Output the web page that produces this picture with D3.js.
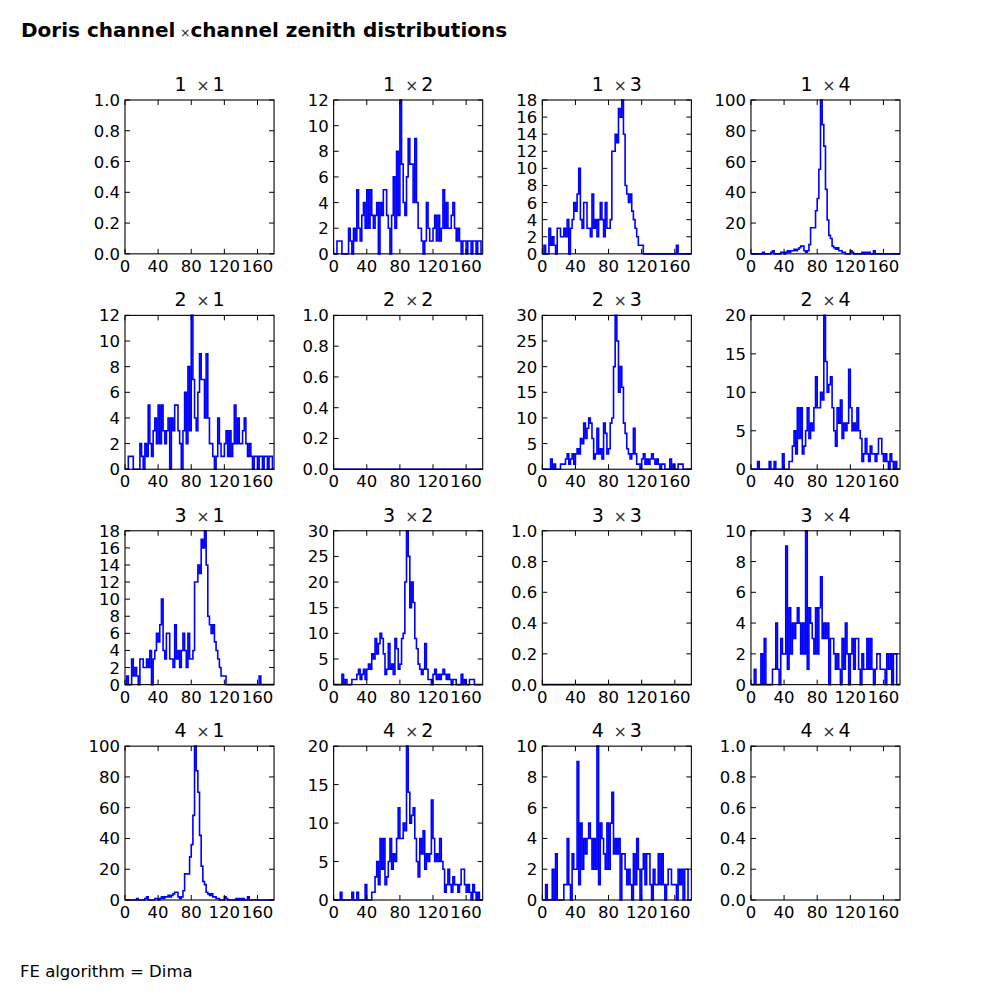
<!DOCTYPE html>
<html><head><meta charset="utf-8">
<script src="https://cdn.jsdelivr.net/npm/d3@7"></script>
<style>html,body{margin:0;padding:0;background:#fff;} svg{display:block;font-family:"DejaVu Sans",sans-serif;}</style>
</head><body><svg id="chart" width="1000" height="1000"></svg>
<script>
// ---------------- data ----------------
const channels = [1, 2, 3, 4];
const binWidth = 2;            // degrees per histogram bin
const xMax = 180;
const xTicks = [0, 40, 80, 120, 160];

// zenith histograms (counts per 2-degree bin, 0..180)
const hist12 = [0,0,1,1,1,0,0,0,0,2, 1,0,2,1,5,2,1,3,4,2, 5,2,5,3,2,3,4,0,4,3,
                5,5,3,2,0,3,6,2,8,3, 12,7,4,3,6,9,7,7,4,9, 4,2,2,1,0,1,4,2,1,1,
                2,3,1,3,1,2,5,2,4,2, 2,3,4,2,1,2,1,0,1,1, 0,1,1,0,1,1,0,1,1,0];
const hist13 = [0,1,0,0,3,1,2,1,0,3, 3,2,2,3,2,4,0,3,4,6, 5,7,10,4,3,6,6,3,3,2,
                7,3,4,2,4,6,4,2,6,3, 3,4,12,12,14,13,17,16,18,14, 8,7,6,7,5,4,3,2,1,1,
                1,0,0,0,0,0,0,0,0,0, 0,0,0,0,0,0,0,0,0,0, 0,1,0,0,0,0,0,0,0,0];
const hist14 = [0,0,0,0,0,0,0,1,0,0, 0,0,1,2,0,0,0,0,1,1, 0,1,2,1,2,2,3,2,3,4,
                5,5,2,1,2,6,17,17,17,28, 36,55,100,84,70,42,22,12,10,5, 4,3,4,2,2,1,1,0,0,0,
                2,1,0,0,0,0,0,1,0,1, 0,1,0,0,2,0,0,0,0,0, 0,0,0,0,0,0,0,0,0,0];
const hist23 = [0,0,0,0,0,2,0,1,0,0, 0,1,1,1,2,3,1,2,3,1, 3,4,3,6,5,9,6,8,10,9,
                6,2,3,8,3,4,2,9,7,3, 4,9,10,20,30,25,15,20,16,9, 7,4,3,2,3,8,3,1,1,0,
                2,3,1,2,1,2,3,2,1,2, 1,0,1,1,0,0,0,2,0,1, 0,0,1,1,1,0,0,0,0,0];
const hist24 = [0,0,0,0,1,0,0,0,0,0, 0,1,0,0,1,0,0,0,0,2, 0,0,0,1,1,3,5,2,8,4,
                8,2,3,5,8,4,6,5,8,12, 8,8,10,9,20,14,10,11,12,8, 5,3,8,6,9,4,6,5,6,13,
                8,5,6,5,8,5,4,1,2,4, 2,1,3,2,2,1,2,4,4,2, 1,2,1,0,2,1,0,1,0,0];
const hist34 = [0,0,1,0,0,0,2,0,3,0, 0,0,0,1,1,4,1,0,3,2, 2,9,1,5,2,4,3,4,5,4,
                2,4,2,10,1,5,4,3,2,5, 2,5,7,3,4,3,4,0,3,3, 2,1,2,1,0,3,1,4,2,0,
                2,3,1,3,3,1,0,2,1,1, 3,1,3,1,0,1,2,2,1,1, 1,0,2,1,2,0,2,2,0,0];
const hist22 = [0,0,0,0,0,0,0,0,0,0, 0,0,0,0,0,0,0,0,0,0, 0,0,0,0,0,0,0,0,0,0,
                0,0,0,0,0,0,0,0,0,0, 0,0,0,0,0,0,0,0,0,0, 0,0,0,0,0,0,0,0,0,0,
                0,0,0,0,0,0,0,0,0,0, 0,0,0,0,0,0,0,0,0,0, 0,0,0,0,0,0,0,0,0,0];
const hist33 = [0,0,0,0,0,0,0,0,0,0, 0,0,0,0,0,0,0,0,0,0, 0,0,0,0,0,0,0,0,0,0,
                0,0,0,0,0,0,0,0,0,0, 0,0,0,0,0,0,0,0,0,0, 0,0,0,0,0,0,0,0,0,0,
                0,0,0,0,0,0,0,0,0,0, 0,0,0,0,0,0,0,0,0,0, 0,0,0,0,0,0,0,0,0,0];

// y-axis tick sets
const yTicksUnit = [0, 0.2, 0.4, 0.6, 0.8, 1.0];
const yTicks12 = [0, 2, 4, 6, 8, 10, 12];
const yTicks13 = [0, 2, 4, 6, 8, 10, 12, 14, 16, 18];
const yTicks14 = [0, 20, 40, 60, 80, 100];
const yTicks23 = [0, 5, 10, 15, 20, 25, 30];
const yTicks24 = [0, 5, 10, 15, 20];
const yTicks34 = [0, 2, 4, 6, 8, 10];

const titleText = ["Doris channel", "\u00d7", "channel zenith distributions"];
const footText = "FE algorithm = Dima";

// table built from the arrays above
const pairTable = {
  "1-1": {counts: null, ticks: yTicksUnit},
  "2-2": {counts: hist22, ticks: yTicksUnit},
  "3-3": {counts: hist33, ticks: yTicksUnit},
  "4-4": {counts: null, ticks: yTicksUnit},
  "1-2": {counts: hist12, ticks: yTicks12},
  "1-3": {counts: hist13, ticks: yTicks13},
  "1-4": {counts: hist14, ticks: yTicks14},
  "2-3": {counts: hist23, ticks: yTicks23},
  "2-4": {counts: hist24, ticks: yTicks24},
  "3-4": {counts: hist34, ticks: yTicks34}
};

// ---------------- layout ----------------
const svg = d3.select("#chart");
const figL = 125, figR = 900, figT = 100, figB = 900, space = 0.4;
const pw = (figR - figL) / (4 + 3 * space);
const ph = (figB - figT) / (4 + 3 * space);
const tickLen = 5;
const fontTick = 16.5, fontTitle = 19;

svg.append("rect").attr("width", 1000).attr("height", 1000).attr("fill", "#fff");

// suptitle
const st = svg.append("text").attr("x", 21).attr("y", 37)
  .attr("font-size", 20).attr("fill", "#000");
st.append("tspan").attr("font-weight", "bold").text(titleText[0]);
st.append("tspan").attr("dx", 4.5).attr("font-size", 12.5).attr("font-weight", "normal").attr("fill", "#222").text(titleText[1]);
st.append("tspan").attr("font-weight", "bold").text(titleText[2]);

// footnote
svg.append("text").attr("x", 20).attr("y", 977).attr("font-size", 16.5).attr("fill", "#000").text(footText);

channels.forEach((ci, r) => {
  channels.forEach((cj, c) => {
    const key = ci <= cj ? `${ci}-${cj}` : `${cj}-${ci}`;
    const entry = pairTable[key];
    const x0 = figL + c * pw * (1 + space);
    const y0 = figT + r * ph * (1 + space);
    const g = svg.append("g").attr("transform", `translate(${x0},${y0})`);

    const x = d3.scaleLinear().domain([0, xMax]).range([0, pw]);
    const yt = entry.ticks;
    const y = d3.scaleLinear().domain([yt[0], yt[yt.length - 1]]).range([ph, 0]);

    // histogram step outline
    if (entry.counts) {
      const edges = d3.range(0, xMax + binWidth / 2, binWidth);
      const pts = [[edges[0], 0]];
      entry.counts.forEach((v, k) => { pts.push([edges[k], v]); pts.push([edges[k + 1], v]); });
      pts.push([edges[edges.length - 1], 0]);
      const line = d3.line().x(d => x(d[0])).y(d => y(d[1]));
      g.append("path").attr("d", line(pts)).attr("fill", "none")
        .attr("stroke", "#0000ff").attr("stroke-width", 1.6).attr("stroke-linejoin", "miter");
    }

    // frame
    g.append("rect").attr("x", 0).attr("y", 0).attr("width", pw).attr("height", ph)
      .attr("fill", "none").attr("stroke", "#000").attr("stroke-width", 1.1);

    // x ticks (inward, bottom + top)
    xTicks.forEach(t => {
      const xx = x(t);
      g.append("line").attr("x1", xx).attr("x2", xx).attr("y1", ph).attr("y2", ph - tickLen).attr("stroke", "#000");
      g.append("line").attr("x1", xx).attr("x2", xx).attr("y1", 0).attr("y2", tickLen).attr("stroke", "#000");
      g.append("text").attr("x", xx).attr("y", ph + 18).attr("text-anchor", "middle")
        .attr("font-size", fontTick).attr("fill", "#000").text(String(t));
    });
    // y ticks
    const fmt = yt[yt.length - 1] <= 1 ? d3.format(".1f") : d3.format("d");
    yt.forEach(t => {
      const yy = y(t);
      g.append("line").attr("x1", 0).attr("x2", tickLen).attr("y1", yy).attr("y2", yy).attr("stroke", "#000");
      g.append("line").attr("x1", pw).attr("x2", pw - tickLen).attr("y1", yy).attr("y2", yy).attr("stroke", "#000");
      g.append("text").attr("x", -5).attr("y", yy + 6).attr("text-anchor", "end")
        .attr("font-size", fontTick).attr("fill", "#000").text(fmt(t));
    });

    // panel title "i × j"
    const tt = g.append("text").attr("x", pw / 2).attr("y", -9).attr("text-anchor", "middle")
      .attr("font-size", fontTitle).attr("fill", "#000");
    tt.append("tspan").text(String(ci));
    tt.append("tspan").attr("dx", 10).attr("font-size", 15.5).attr("fill", "#333").text("\u00d7");
    tt.append("tspan").attr("dx", 3).text(String(cj));
  });
});
</script></body></html>
